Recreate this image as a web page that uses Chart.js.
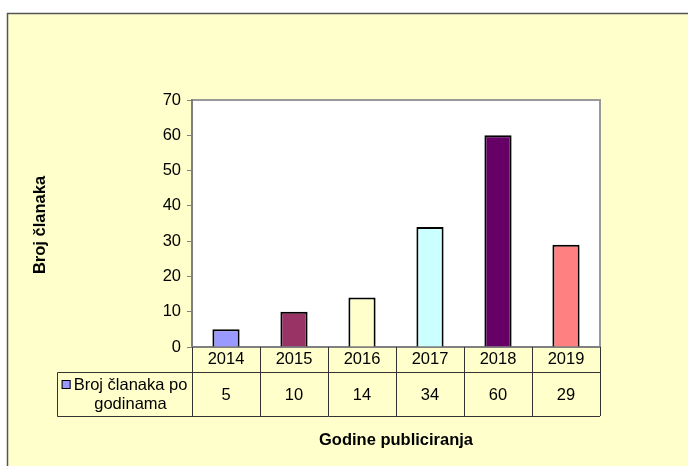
<!DOCTYPE html>
<html>
<head>
<meta charset="utf-8">
<script src="https://cdn.jsdelivr.net/npm/chart.js@4/dist/chart.umd.min.js"></script>
<style>
  html, body { margin: 0; padding: 0; background: #ffffff; }
  canvas { display: block; }
</style>
</head>
<body>
<canvas id="c" width="688" height="466"></canvas>
<script>
const categories = ['2014', '2015', '2016', '2017', '2018', '2019'];
const values = [5, 10, 14, 34, 60, 29];
const barColors = ['#9999FF', '#993366', '#FFFFCC', '#CCFFFF', '#660066', '#FF8080'];
const seriesLabelLines = ['Broj članaka po', 'godinama'];
const yTitle = 'Broj članaka';
const xTitle = 'Godine publiciranja';
const yMin = 0, yMax = 70, yStep = 10;

const FONT = "Arial, 'Liberation Sans', sans-serif";
const FS = 16.5;

const decorPlugin = {
  id: 'decor',
  beforeDraw(chart) {
    const ctx = chart.ctx;
    const a = chart.chartArea;
    ctx.save();
    ctx.fillStyle = '#ffffff';
    ctx.fillRect(0, 0, chart.width, chart.height);
    ctx.fillStyle = '#FFFFCC';
    ctx.fillRect(7, 13, chart.width - 7, chart.height - 13);
    ctx.strokeStyle = '#555555';
    ctx.lineWidth = 1.5;
    ctx.beginPath();
    ctx.moveTo(7.5, chart.height);
    ctx.lineTo(7.5, 13.5);
    ctx.lineTo(chart.width, 13.5);
    ctx.stroke();
    // plot area
    ctx.fillStyle = '#ffffff';
    ctx.fillRect(a.left, a.top, a.right - a.left, a.bottom - a.top);
    ctx.strokeStyle = '#999999';
    ctx.lineWidth = 2;
    ctx.beginPath();
    ctx.moveTo(a.left, a.top);
    ctx.lineTo(a.right, a.top);
    ctx.lineTo(a.right, a.bottom);
    ctx.stroke();
    ctx.restore();
  },
  afterDraw(chart) {
    const ctx = chart.ctx;
    const a = chart.chartArea;
    const xs = chart.scales.x;
    const n = categories.length;
    const colW = (xs.right - xs.left) / n;
    const rowTop = a.bottom;
    const rowMid = 372;
    const rowBot = 416;
    const tableLeft = 57;
    ctx.save();
    ctx.strokeStyle = '#333333';
    ctx.lineWidth = 1;
    ctx.beginPath();
    for (let i = 0; i <= n; i++) {
      const x = Math.round(xs.left + i * colW) + 0.5;
      ctx.moveTo(x, rowTop);
      ctx.lineTo(x, rowBot);
    }
    ctx.moveTo(tableLeft + 0.5, rowMid + 0.5);
    ctx.lineTo(xs.right, rowMid + 0.5);
    ctx.moveTo(tableLeft + 0.5, rowBot + 0.5);
    ctx.lineTo(xs.right, rowBot + 0.5);
    ctx.moveTo(tableLeft + 0.5, rowMid + 0.5);
    ctx.lineTo(tableLeft + 0.5, rowBot + 0.5);
    ctx.stroke();

    // values
    ctx.fillStyle = '#000000';
    ctx.font = FS + 'px ' + FONT;
    ctx.textAlign = 'center';
    ctx.textBaseline = 'middle';
    const valY = (rowMid + rowBot) / 2 + 1;
    values.forEach((v, i) => {
      ctx.fillText(String(v), xs.getPixelForValue(i), valY);
    });

    // legend key + series label
    const cellCenter = (tableLeft + xs.left) / 2;
    const l1 = seriesLabelLines[0];
    const w1 = ctx.measureText(l1).width;
    const keySize = 9, keyGap = 3;
    const totalW = keySize + keyGap + w1;
    const startX = cellCenter - totalW / 2;
    const line1Y = 385;
    const line2Y = 404;
    ctx.fillStyle = barColors[0];
    ctx.fillRect(startX, line1Y - 5, keySize, keySize);
    ctx.strokeStyle = '#000000';
    ctx.lineWidth = 1;
    ctx.strokeRect(startX + 0.5, line1Y - 4.5, keySize - 1, keySize - 1);
    ctx.fillStyle = '#000000';
    ctx.textAlign = 'left';
    ctx.fillText(l1, startX + keySize + keyGap, line1Y);
    ctx.textAlign = 'center';
    ctx.fillText(seriesLabelLines[1], startX + keySize + keyGap + w1 / 2, line2Y);

    // axis titles
    ctx.font = 'bold ' + FS + 'px ' + FONT;
    ctx.fillText(xTitle, (xs.left + xs.right) / 2, 440);
    ctx.translate(40, 225);
    ctx.rotate(-Math.PI / 2);
    ctx.fillText(yTitle, 0, 0);
    ctx.restore();
  }
};

new Chart(document.getElementById('c'), {
  type: 'bar',
  data: {
    labels: categories,
    datasets: [{
      label: seriesLabelLines.join(' '),
      data: values,
      backgroundColor: barColors,
      borderColor: '#000000',
      borderWidth: 2,
      borderSkipped: 'bottom',
      categoryPercentage: 1.0,
      barPercentage: 0.4
    }]
  },
  options: {
    responsive: false,
    animation: false,
    devicePixelRatio: 1,
    layout: { padding: { left: 142, right: 88, top: 100, bottom: 50 } },
    plugins: {
      legend: { display: false },
      tooltip: { enabled: false }
    },
    scales: {
      x: {
        grid: { display: false, drawTicks: false },
        border: { display: true, color: '#808080', width: 2 },
        ticks: { color: '#000000', font: { family: FONT, size: FS }, padding: 3, maxRotation: 0 },
        afterFit(scale) { scale.height = 69; }
      },
      y: {
        min: yMin,
        max: yMax,
        ticks: { stepSize: yStep, color: '#000000', font: { family: FONT, size: FS }, padding: 6 },
        grid: { drawOnChartArea: false, drawTicks: true, tickLength: 5, color: '#808080', lineWidth: 1 },
        border: { display: true, color: '#808080', width: 2 },
        afterFit(scale) { scale.width = 50; }
      }
    }
  },
  plugins: [decorPlugin]
});
</script>
</body>
</html>
